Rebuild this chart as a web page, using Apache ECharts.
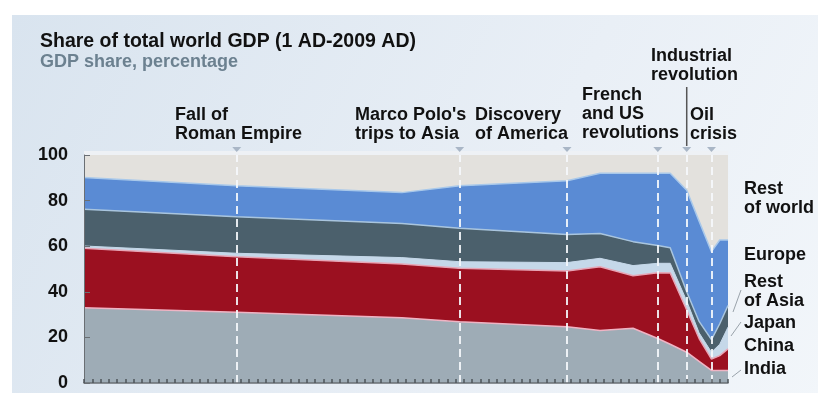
<!DOCTYPE html>
<html>
<head>
<meta charset="utf-8">
<script src="https://cdn.jsdelivr.net/npm/echarts@6/dist/echarts.min.js"></script>
<style>
html,body{margin:0;padding:0;background:#fff;}
#c{width:828px;height:393px;}
</style>
</head>
<body>
<div id="c"></div>
<script>
// Schematic time axis from 1 AD to 2009 AD: 78 tick steps; vertex positions in tick units
const periods = [0, 18.5, 38.5, 45.5, 58.5, 62.5, 66.5, 69.5, 71, 73, 74.5, 76, 77, 78];
// GDP share (percent) for each region at each period
const india       = [33.0, 31.0, 28.6, 26.9, 24.7, 23.0, 24.0, 19.5, 17.0, 13.5, 9.5, 5.5, 5.5, 5.5];
const china       = [26.1, 24.4, 23.6, 23.4, 24.4, 28.0, 23.0, 28.9, 31.3, 18.5, 10.0, 5.0, 6.5, 9.5];
const japan       = [1.0, 1.5, 2.8, 2.9, 3.7, 3.7, 4.5, 4.1, 4.2, 4.0, 2.5, 3.0, 5.0, 9.5];
const restOfAsia  = [16.1, 16.0, 15.0, 14.7, 12.3, 10.9, 10.5, 7.8, 6.8, 4.0, 5.0, 5.5, 9.0, 9.5];
const europe      = [13.9, 13.6, 13.5, 18.6, 23.6, 26.4, 30.0, 31.7, 32.7, 44.5, 44.0, 38.6, 36.7, 28.7];
const restOfWorld = [9.9, 13.5, 16.5, 13.5, 11.3, 8.0, 8.0, 8.0, 8.0, 15.5, 29.0, 42.4, 37.3, 37.3];
const yTicks = [0, 20, 40, 60, 80, 100];

const events = [
  {name: 'Fall of\nRoman Empire', pos: 18.5},
  {name: "Marco Polo's\ntrips to Asia", pos: 45.5},
  {name: 'Discovery\nof America', pos: 58.5},
  {name: 'French\nand US\nrevolutions', pos: 69.5},
  {name: 'Industrial\nrevolution', pos: 73},
  {name: 'Oil\ncrisis', pos: 76}
];
const regionLabels = ['Rest\nof world', 'Europe', 'Rest\nof Asia', 'Japan', 'China', 'India'];

// half-tick category slots along the axis (0, 0.5, 1, ... 78)
const slots = [];
for (let i = 0; i <= 156; i++) slots.push(String(i / 2));

const FONT = '"Liberation Sans", Arial, sans-serif';
const chart = echarts.init(document.getElementById('c'), null, {renderer: 'canvas'});

function pts(arr){ return arr.map((v,i)=>[String(periods[i]), v]); }

function areaSeries(name, data, fill, lineColor, lineWidth){
  return {
    name, type: 'line', stack: 'gdp', data: pts(data), symbol: 'none',
    lineStyle: {color: lineColor, width: lineWidth},
    areaStyle: {color: fill, opacity: 1},
    emphasis: {disabled: true}, z: 2
  };
}

const series = [
  areaSeries('India', india, '#9eacb6', '#efb4c4', 1.5),
  areaSeries('China', china, '#9b1020', '#e7a5b5', 1.5),
  areaSeries('Japan', japan, '#c5d8e9', '#c5d8e9', 1),
  areaSeries('Rest of Asia', restOfAsia, '#4b606c', '#a9c5de', 1.5),
  areaSeries('Europe', europe, '#5a8bd4', '#a8c8ea', 1.5),
  areaSeries('Rest of world', restOfWorld, '#e3e1dd', '#e3e1dd', 0)
];
series.push({
  type: 'line', data: [], symbol: 'none', z: 5,
  markLine: {
    silent: true, symbol: 'none', label: {show: false},
    lineStyle: {color: 'rgba(245,248,252,0.9)', type: [8, 5], width: 2},
    data: events.map(e => ({xAxis: String(e.pos)}))
  }
});

const textStyleBase = {font: 'bold 18px ' + FONT, fill: '#111', lineHeight: 19};

chart.setOption({
  animation: false,
  backgroundColor: '#ffffff',
  title: [
    {text: 'Share of total world GDP (1 AD-2009 AD)', left: 35, top: 27,
     textStyle: {fontFamily: FONT, fontWeight: 'bold', fontSize: 19.5, color: '#111'}},
    {text: 'GDP share, percentage', left: 35, top: 48,
     textStyle: {fontFamily: FONT, fontWeight: 'bold', fontSize: 18, color: '#6c8190'}}
  ],
  grid: {left: 84, right: 100, top: 155, bottom: 10, containLabel: false},
  xAxis: {
    type: 'category', data: slots, boundaryGap: false, z: 10,
    axisLine: {show: true, lineStyle: {color: '#6a6f74', width: 1.5}},
    axisTick: {show: true, inside: true, length: 4, interval: (i) => i % 2 === 0,
      lineStyle: {color: '#4e545a', width: 1.5}},
    axisLabel: {show: false}, splitLine: {show: false}
  },
  yAxis: {
    type: 'value', min: 0, max: 100, interval: 20, z: 10,
    axisLine: {show: true, lineStyle: {color: '#6a6f74', width: 1}},
    axisTick: {show: true, inside: true, length: 6, lineStyle: {color: '#6a6f74'}},
    axisLabel: {color: '#111', fontFamily: FONT, fontWeight: 'bold', fontSize: 18, margin: 16,
      formatter: v => yTicks.includes(v) ? String(v) : ''},
    splitLine: {show: false}
  },
  series
});

// Annotations positioned from the axis scale
const g = [];
g.push({type: 'rect', z: -10, shape: {x: 12, y: 15, width: 806, height: 400},
  style: {fill: new echarts.graphic.LinearGradient(0, 0, 1, 1, [
    {offset: 0, color: '#d9e4ef'}, {offset: 0.6, color: '#e9eff6'}, {offset: 1, color: '#f2f6fa'}])}});
const tl = chart.convertToPixel({gridIndex: 0}, ['0', 100]);
const tr = chart.convertToPixel({gridIndex: 0}, ['78', 100]);
g.push({type: 'rect', z: -5, shape: {x: tl[0], y: tl[1] - 4, width: tr[0] - tl[0], height: 4},
  style: {fill: '#eef1f5'}});

const labelX = [175, 355, 475, 582, 651, 690];
const labelTop = [105.5, 105.5, 105.5, 85.5, 46.5, 105.5];
events.forEach((e, i) => {
  const p = chart.convertToPixel({gridIndex: 0}, [String(e.pos), 100]);
  g.push({type: 'polygon', z: 10, shape: {points: [[p[0]-4.5, p[1]-8], [p[0]+4.5, p[1]-8], [p[0], p[1]-3]]},
    style: {fill: '#a9b6c6'}});
  g.push({type: 'text', z: 10, style: Object.assign({text: e.name, x: labelX[i], y: labelTop[i], textVerticalAlign: 'top'}, textStyleBase)});
  if (e.name.indexOf('Industrial') === 0) {
    g.push({type: 'line', z: 10, shape: {x1: p[0], y1: 87, x2: p[0], y2: p[1]-9}, style: {stroke: '#555', lineWidth: 1.5}});
  }
});

const rTop = [179.5, 245.5, 272.5, 313.5, 336.5, 359.5];
regionLabels.forEach((t, i) => {
  g.push({type: 'text', z: 10, style: Object.assign({text: t, x: 744, y: rTop[i], textVerticalAlign: 'top'}, textStyleBase)});
});
// leader lines
[[741, 290, 733, 312], [741, 322, 731, 336], [741, 370, 732, 377]].forEach(l => {
  g.push({type: 'line', z: 10, shape: {x1: l[0], y1: l[1], x2: l[2], y2: l[3]}, style: {stroke: '#9aa3ab', lineWidth: 1}});
});

chart.setOption({graphic: g});
</script>
</body>
</html>
